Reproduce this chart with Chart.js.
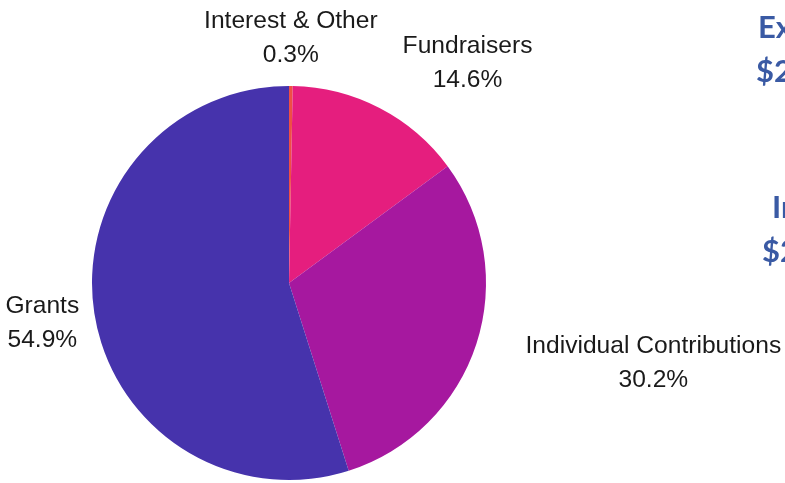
<!DOCTYPE html>
<html>
<head>
<meta charset="utf-8">
<script src="https://cdn.jsdelivr.net/npm/chart.js@4"></script>
<style>
  html, body { margin: 0; padding: 0; background: #fff; }
  #wrap { width: 785px; height: 483px; position: relative; }
</style>
</head>
<body>
<div id="wrap"><canvas id="incomeChart"></canvas></div>
<script>
// Income sources, clockwise from 12 o'clock
const categories = ['Interest & Other', 'Fundraisers', 'Individual Contributions', 'Grants'];
const shares = [0.3, 14.6, 30.2, 54.9];
const sliceColors = ['#ee4f45', '#e51e7e', '#a6189f', '#4633ac'];

// summary text at the right edge (cut off in the source)
const summaryTitles = ['Expenses', 'Income'];
const summaryAmounts = ['$2', '$2'];

// label nudges from the slice's outer mid-point (layout only)
const labelNudge = [[0, -48], [88, -45], [177, 19], [-52, 10]];

const textColor = '#1a1a1a';
const summaryColor = '#3a5aa4';

const outsideLabels = {
  id: 'outsideLabels',
  afterDraw(chart) {
    const ctx = chart.ctx;
    const arcs = chart.getDatasetMeta(0).data;
    ctx.save();
    ctx.font = '24.6px "Liberation Sans", Arial, sans-serif';
    ctx.fillStyle = textColor;
    ctx.textAlign = 'center';
    ctx.textBaseline = 'middle';
    arcs.forEach((arc, i) => {
      const p = arc.getProps(['x', 'y', 'startAngle', 'endAngle', 'outerRadius'], true);
      const mid = (p.startAngle + p.endAngle) / 2;
      const ax = p.x + Math.cos(mid) * p.outerRadius + labelNudge[i][0];
      const ay = p.y + Math.sin(mid) * p.outerRadius + labelNudge[i][1];
      ctx.fillText(categories[i], ax, ay - 17);
      ctx.fillText(shares[i].toFixed(1) + '%', ax, ay + 17);
    });

    // summary block, partly off the right edge
    ctx.font = 'bold 31px Lato, "Liberation Sans", sans-serif';
    ctx.fillStyle = summaryColor;
    ctx.textAlign = 'left';
    ctx.fillText(summaryTitles[0], 758, 28);
    ctx.fillText(summaryAmounts[0], 756, 72);
    ctx.fillText(summaryTitles[1], 772, 208);
    ctx.fillText(summaryAmounts[1], 762, 252);
    ctx.restore();
  }
};

new Chart(document.getElementById('incomeChart'), {
  type: 'pie',
  data: {
    labels: categories,
    datasets: [{
      data: shares,
      backgroundColor: sliceColors,
      borderWidth: 0
    }]
  },
  options: {
    responsive: true,
    maintainAspectRatio: false,
    animation: false,
    layout: { padding: { left: 92, right: 299, top: 86, bottom: 3 } },
    plugins: {
      legend: { display: false },
      tooltip: { enabled: false }
    }
  },
  plugins: [outsideLabels]
});
</script>
</body>
</html>
